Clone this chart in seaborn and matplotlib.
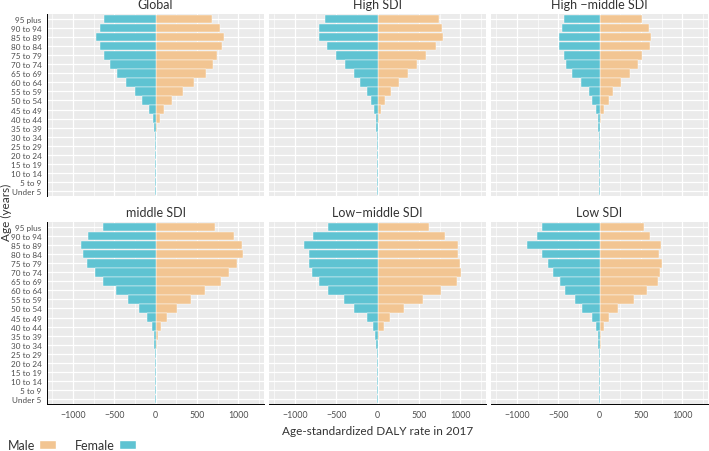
import numpy as np
import pandas as pd
import matplotlib
matplotlib.use('Agg')
import matplotlib.pyplot as plt
import seaborn as sns
from matplotlib.patches import Patch
from matplotlib.ticker import MultipleLocator

# age groups, top of the pyramid first
ages = ['95 plus', '90 to 94', '85 to 89', '80 to 84', '75 to 79', '70 to 74',
        '65 to 69', '60 to 64', '55 to 59', '50 to 54', '45 to 49', '40 to 44',
        '35 to 39', '30 to 34', '25 to 29', '20 to 24', '15 to 19', '10 to 14',
        '5 to 9', 'Under 5']

regions = ['Global', 'High SDI', 'High \u2212middle SDI',
           'middle SDI', 'Low\u2212middle SDI', 'Low SDI']

# female values are plotted to the left (negative)
global_f = [-621, -677, -714, -669, -617, -556, -464, -359, -246, -161, -77, -36, -16, -8, -4, -2, -1, -0.5, -0.3, -0.3]
global_m = [685, 782, 831, 806, 746, 690, 605, 468, 331, 202, 105, 52, 24, 12, 6, 3, 1.5, 0.5, 0.3, 0.3]

high_f = [-637, -702, -702, -605, -496, -395, -290, -206, -129, -77, -44, -24, -14, -8, -4, -2, -1, -0.5, -0.3, -0.3]
high_m = [738, 782, 790, 706, 589, 480, 367, 262, 169, 89, 44, 20, 8, 4, 2, 1, 0.5, 0.3, 0.2, 0.2]

highmid_f = [-427, -452, -484, -484, -435, -403, -331, -226, -133, -85, -48, -24, -16, -8, -4, -2, -1, -0.5, -0.3, -0.3]
highmid_m = [520, 593, 625, 613, 512, 460, 371, 266, 165, 109, 56, 24, 12, 8, 4, 2, 1, 0.5, 0.3, 0.3]

mid_f = [-633, -819, -903, -875, -827, -734, -633, -472, -331, -198, -101, -48, -24, -16, -8, -4, -2, -1, -0.5, -0.5]
mid_m = [722, 948, 1048, 1056, 984, 891, 794, 601, 435, 262, 141, 69, 36, 20, 8, 3, 2, 1, 0.5, 0.5]

lowmid_f = [-597, -782, -891, -823, -823, -790, -706, -593, -407, -282, -121, -56, -28, -20, -12, -6, -3, -1, -0.5, -0.5]
lowmid_m = [621, 815, 968, 968, 1000, 1016, 964, 774, 556, 315, 153, 73, 24, 12, 8, 4, 2, 1, 0.5, 0.5]

low_f = [-694, -754, -883, -698, -629, -560, -472, -423, -294, -214, -85, -44, -24, -16, -8, -4, -2, -1, -0.5, -0.5]
low_m = [540, 609, 738, 718, 750, 730, 706, 569, 419, 222, 109, 52, 24, 16, 12, 6, 3, 1, 0.5, 0.5]

female_vals = [global_f, high_f, highmid_f, mid_f, lowmid_f, low_f]
male_vals = [global_m, high_m, highmid_m, mid_m, lowmid_m, low_m]

male_col = '#F2C592'
female_col = '#5FC3D2'
text_col = '#4D4D4D'

sns.set_style('white')
plt.rcParams['font.family'] = ['Lato', 'DejaVu Sans']
plt.rcParams['axes.unicode_minus'] = True

fig = plt.figure(figsize=(7.09, 4.52), dpi=100)
W, H = 709, 452

col_x = [47, 269, 491]
col_w = 217
row_top = [15, 223]
row_h = 182

for i, region in enumerate(regions):
    r, c = divmod(i, 3)
    ax = fig.add_axes([col_x[c] / W, 1 - (row_top[r] + row_h) / H, col_w / W, row_h / H])
    df = pd.DataFrame({
        'age': ages * 2,
        'rate': male_vals[i] + female_vals[i],
        'sex': ['Male'] * len(ages) + ['Female'] * len(ages),
    })
    sns.barplot(data=df, x='rate', y='age', hue='sex', order=ages,
                hue_order=['Male', 'Female'], palette=[male_col, female_col],
                dodge=False, width=0.9, saturation=1, legend=False,
                edgecolor='white', linewidth=0.3, ax=ax)
    ax.set_facecolor('#EBEBEB')
    ax.set_xlim(-1312.5, 1312.5)
    ax.set_ylim(19.6, -0.6)
    ax.xaxis.set_major_locator(MultipleLocator(500))
    ax.xaxis.set_minor_locator(MultipleLocator(250))
    ax.set_axisbelow(True)
    ax.grid(which='major', color='white', linewidth=0.9)
    ax.grid(which='minor', axis='x', color='white', linewidth=0.45)
    for s in ax.spines.values():
        s.set_visible(False)
    ax.set_xlabel('')
    ax.set_ylabel('')
    ax.set_title(region, fontsize=9, color='#333333', pad=4)
    ax.tick_params(axis='both', which='minor', length=0)
    ax.tick_params(axis='both', which='major', labelsize=5.9, labelcolor=text_col,
                   color='#333333', length=2.5, width=0.6, pad=1.5)
    if c == 0:
        ax.spines['left'].set_visible(True)
        ax.spines['left'].set_color('black')
        ax.spines['left'].set_linewidth(0.7)
    else:
        ax.tick_params(axis='y', left=False, labelleft=False)
    if r == 1:
        ax.spines['bottom'].set_visible(True)
        ax.spines['bottom'].set_color('black')
        ax.spines['bottom'].set_linewidth(0.7)
        ax.tick_params(axis='x', labelsize=6.3)
    else:
        ax.tick_params(axis='x', bottom=False, labelbottom=False)

fig.text(378 / W, 1 - 432 / H, 'Age-standardized DALY rate in 2017', ha='center', va='center',
         fontsize=8.5, color='#333333')
fig.text(6 / W, 1 - 212 / H, 'Age (years)', ha='center', va='center', rotation=90,
         fontsize=8.5, color='#333333')

handles = [Patch(facecolor=male_col, label='Male'), Patch(facecolor=female_col, label='Female')]
fig.legend(handles=handles, loc='center left', bbox_to_anchor=(4 / W, 1 - 446 / H), ncol=2,
           frameon=False, markerfirst=False, fontsize=9, handlelength=1.4, handleheight=0.8,
           handletextpad=0.3, columnspacing=1.5, borderaxespad=0, borderpad=0.3,
           labelcolor='#333333')

fig.savefig('out.png', dpi=100)
